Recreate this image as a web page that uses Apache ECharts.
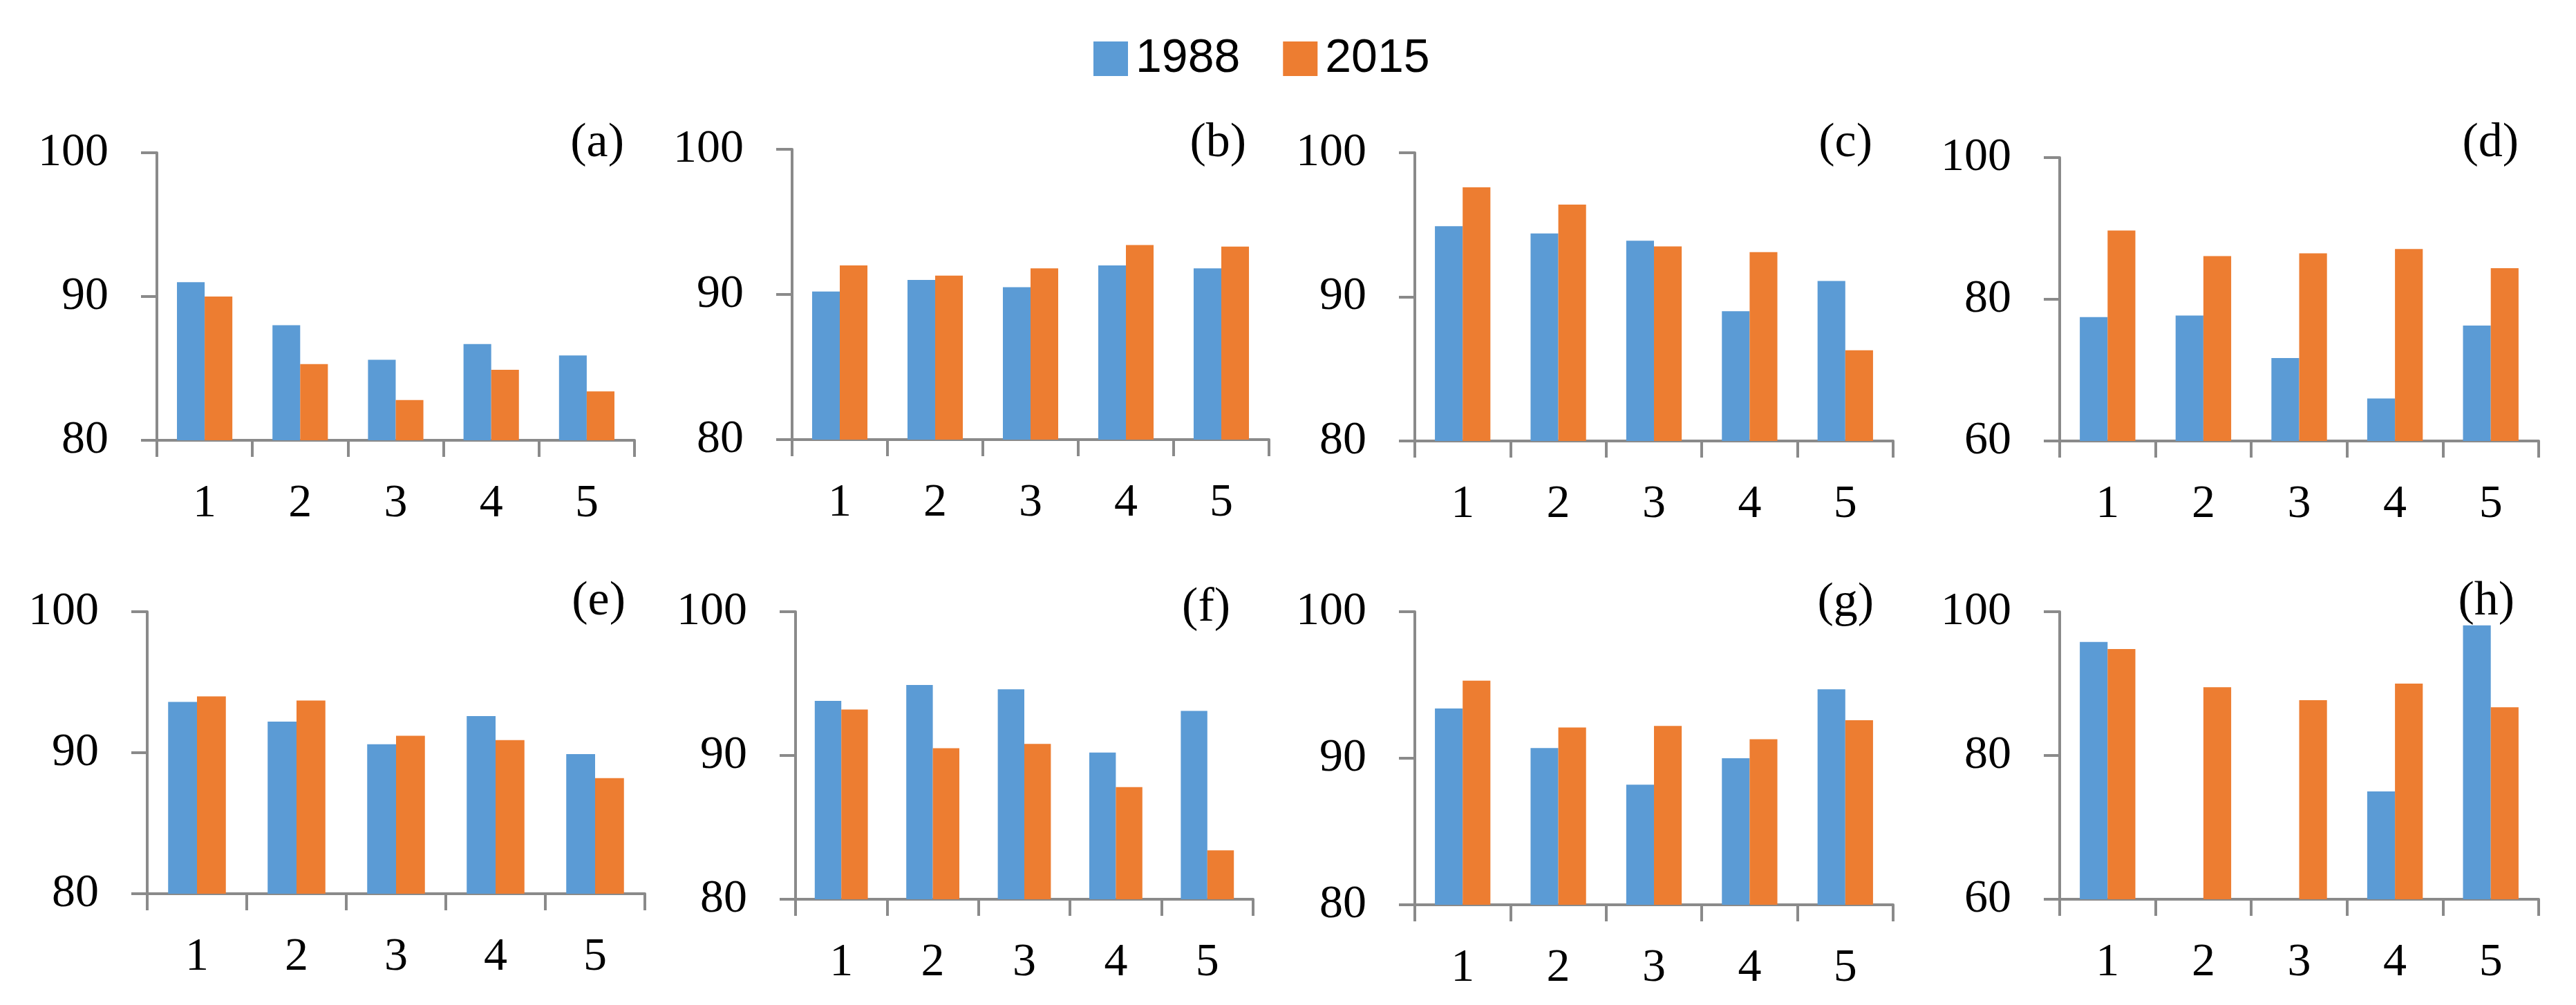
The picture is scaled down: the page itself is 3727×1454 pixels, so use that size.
<!DOCTYPE html>
<html>
<head>
<meta charset="utf-8">
<script src="https://cdn.jsdelivr.net/npm/echarts@6/dist/echarts.min.js"></script>
<style>
html,body{margin:0;padding:0;background:#fff;}
#chart{width:3727px;height:1454px;}
</style>
</head>
<body>
<div id="chart"></div>
<script>
// ---- data ----
const categories = ['1', '2', '3', '4', '5'];
const seriesNames = ['1988', '2015'];
const panelLabels = ['(a)', '(b)', '(c)', '(d)', '(e)', '(f)', '(g)', '(h)'];

const a1988 = [91.0, 88.0, 85.6, 86.7, 85.9];
const a2015 = [90.0, 85.3, 82.8, 84.9, 83.4];
const b1988 = [90.2, 91.0, 90.5, 92.0, 91.8];
const b2015 = [92.0, 91.3, 91.8, 93.4, 93.3];
const c1988 = [94.9, 94.4, 93.9, 89.0, 91.1];
const c2015 = [97.6, 96.4, 93.5, 93.1, 86.3];
const d1988 = [77.5, 77.7, 71.7, 66.0, 76.3];
const d2015 = [89.7, 86.1, 86.5, 87.1, 84.4];
const e1988 = [93.6, 92.2, 90.6, 92.6, 89.9];
const e2015 = [94.0, 93.7, 91.2, 90.9, 88.2];
const f1988 = [93.8, 94.9, 94.6, 90.2, 93.1];
const f2015 = [93.2, 90.5, 90.8, 87.8, 83.4];
const g1988 = [93.4, 90.7, 88.2, 90.0, 94.7];
const g2015 = [95.3, 92.1, 92.2, 91.3, 92.6];
const h1988 = [95.8, null, null, 75.0, 98.1];
const h2015 = [94.8, 89.5, 87.7, 90.0, 86.7];

const yMins = [80, 80, 80, 60, 80, 80, 80, 60];
const yMaxs = [100, 100, 100, 100, 100, 100, 100, 100];
const yIntervals = [10, 10, 10, 20, 10, 10, 10, 20];

const data1988 = [a1988, b1988, c1988, d1988, e1988, f1988, g1988, h1988];
const data2015 = [a2015, b2015, c2015, d2015, e2015, f2015, g2015, h2015];

// ---- layout ----
const grids = [
  {left: 227, top: 221, width: 691, height: 416},
  {left: 1146, top: 216, width: 690, height: 420},
  {left: 2047, top: 221, width: 692, height: 417},
  {left: 2980, top: 228, width: 693, height: 410},
  {left: 213, top: 885, width: 720, height: 408},
  {left: 1151, top: 885, width: 662, height: 416},
  {left: 2047, top: 885, width: 692, height: 424},
  {left: 2980, top: 885, width: 693, height: 416}
];
const labelPos = [
  [903, 208], [1803, 208], [2709, 208], [3644, 208],
  [905, 871], [1780, 880], [2711, 873], [3638, 871]
];

const AXIS = '#8a8a8a';
const BLUE = '#5B9BD5';
const ORANGE = '#ED7D31';
const SERIF = '"Liberation Serif", "Times New Roman", serif';

const xAxes = [], yAxes = [], series = [], graphics = [];
grids.forEach((g, i) => {
  xAxes.push({
    type: 'category', gridIndex: i, data: categories,
    axisLine: {show: true, lineStyle: {color: AXIS, width: 4}},
    axisTick: {show: true, length: 24, lineStyle: {color: AXIS, width: 4}},
    axisLabel: {color: '#000', fontFamily: SERIF, fontSize: 68, margin: 58},
    splitLine: {show: false}
  });
  yAxes.push({
    type: 'value', gridIndex: i, min: yMins[i], max: yMaxs[i], interval: yIntervals[i],
    axisLine: {show: true, lineStyle: {color: AXIS, width: 4}},
    axisTick: {show: true, length: 23, lineStyle: {color: AXIS, width: 4}},
    axisLabel: {color: '#000', fontFamily: SERIF, fontSize: 68, margin: 70},
    splitLine: {show: false}
  });
  series.push({
    name: seriesNames[0], type: 'bar', xAxisIndex: i, yAxisIndex: i,
    data: data1988[i], itemStyle: {color: BLUE},
    barGap: '0%', barCategoryGap: '42%', animation: false
  });
  series.push({
    name: seriesNames[1], type: 'bar', xAxisIndex: i, yAxisIndex: i,
    data: data2015[i], itemStyle: {color: ORANGE},
    barGap: '0%', barCategoryGap: '42%', animation: false
  });
  graphics.push({
    type: 'text', x: labelPos[i][0], y: labelPos[i][1],
    style: {text: panelLabels[i], align: 'right', verticalAlign: 'middle',
            font: '70px ' + SERIF, fill: '#000'}
  });
});

const chart = echarts.init(document.getElementById('chart'), null, {renderer: 'canvas'});
chart.setOption({
  backgroundColor: '#fff',
  animation: false,
  legend: {
    data: seriesNames, left: 1577, top: 46,
    itemWidth: 50, itemHeight: 50, itemGap: 62,
    icon: 'rect',
    textStyle: {fontFamily: '"Liberation Sans", Arial, sans-serif', fontSize: 68, color: '#000', padding: [0, 0, 0, 6]}
  },
  grid: grids,
  xAxis: xAxes,
  yAxis: yAxes,
  series: series,
  graphic: graphics
});
</script>
</body>
</html>
